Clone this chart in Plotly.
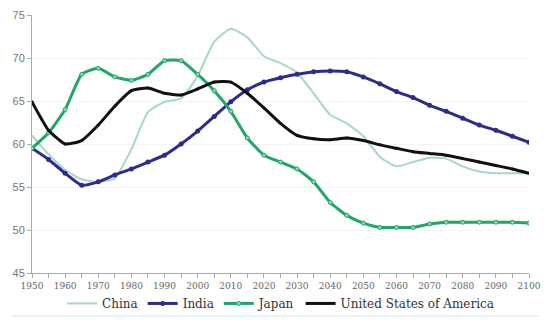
import plotly.graph_objects as go

years = [1950, 1955, 1960, 1965, 1970, 1975, 1980, 1985, 1990, 1995, 2000,
         2005, 2010, 2015, 2020, 2025, 2030, 2035, 2040, 2045, 2050,
         2055, 2060, 2065, 2070, 2075, 2080, 2085, 2090, 2095, 2100]

china = [61.0, 58.8, 57.0, 55.9, 55.6, 56.0, 59.4, 63.7, 64.9, 65.3, 67.9,
         71.9, 73.4, 72.4, 70.2, 69.4, 68.3, 65.9, 63.4, 62.4, 60.9,
         58.5, 57.4, 57.9, 58.4, 58.3, 57.4, 56.8, 56.6, 56.6, 56.6]

india = [59.5, 58.2, 56.6, 55.2, 55.6, 56.4, 57.1, 57.9, 58.7, 60.0, 61.5,
         63.2, 64.9, 66.3, 67.2, 67.7, 68.1, 68.4, 68.5, 68.4, 67.8,
         67.0, 66.1, 65.4, 64.5, 63.8, 63.0, 62.2, 61.6, 60.9, 60.2]

japan = [59.5, 61.3, 64.0, 68.1, 68.8, 67.8, 67.4, 68.1, 69.7, 69.7, 68.1,
         66.2, 63.8, 60.7, 58.7, 57.9, 57.1, 55.6, 53.2, 51.7, 50.8,
         50.3, 50.3, 50.3, 50.7, 50.9, 50.9, 50.9, 50.9, 50.9, 50.8]

usa = [64.9, 61.6, 60.0, 60.4, 62.2, 64.4, 66.2, 66.5, 65.9, 65.7, 66.4,
       67.2, 67.2, 65.9, 64.2, 62.4, 61.0, 60.6, 60.5, 60.7, 60.4,
       59.9, 59.5, 59.1, 58.9, 58.7, 58.3, 57.9, 57.5, 57.1, 56.6]

series_names = ["China", "India", "Japan", "United States of America"]

SERIF = "DejaVu Serif"

fig = go.Figure()
fig.add_trace(go.Scatter(x=years, y=china, name=series_names[0], mode="lines",
                         line=dict(color="#a6d8c6", width=2, shape="spline", smoothing=0.5)))
fig.add_trace(go.Scatter(x=years, y=india, name=series_names[1], mode="lines+markers",
                         line=dict(color="#2f2b8c", width=3, shape="spline", smoothing=0.5),
                         marker=dict(color="#2f2b8c", size=5, symbol="circle")))
fig.add_trace(go.Scatter(x=years, y=japan, name=series_names[2], mode="lines+markers",
                         line=dict(color="#1fa66a", width=3, shape="spline", smoothing=0.5),
                         marker=dict(color="#8fd8b4", size=4, symbol="circle",
                                     line=dict(color="#1fa66a", width=1))))
fig.add_trace(go.Scatter(x=years, y=usa, name=series_names[3], mode="lines+markers",
                         line=dict(color="#111111", width=3, shape="spline", smoothing=0.5),
                         marker=dict(color="#111111", size=3)))

fig.update_layout(
    width=549, height=322,
    margin=dict(l=32, r=20, t=15, b=49, autoexpand=False),
    paper_bgcolor="white", plot_bgcolor="white",
    showlegend=True,
    legend=dict(orientation="h", x=0.5, xanchor="center", y=-0.118, yanchor="middle",
                font=dict(family=SERIF, size=12, color="#333333"),
                itemwidth=30, tracegroupgap=0, itemsizing="trace",
                bgcolor="rgba(0,0,0,0)"),
    xaxis=dict(range=[1950, 2100], dtick=10, tick0=1950, showgrid=False,
               showline=True, linecolor="#aaaaaa", linewidth=1,
               ticks="outside", ticklen=4, tickcolor="#aaaaaa",
               minor=dict(dtick=5, ticks="outside", ticklen=4, tickcolor="#aaaaaa"),
               tickfont=dict(family=SERIF, size=9, color="#666666"),
               zeroline=False),
    yaxis=dict(range=[45, 75], dtick=5, showgrid=True, gridcolor="#f3f3f3",
               showline=True, linecolor="#aaaaaa", linewidth=1,
               ticks="outside", ticklen=4, tickcolor="#aaaaaa",
               tickfont=dict(family="Liberation Sans", size=11, color="#777777"),
               zeroline=False),
)

fig.add_shape(type="line", xref="paper", yref="paper", x0=-0.04, x1=1.02, y0=-0.167, y1=-0.167,
              line=dict(color="#cfe3f5", width=1))

fig.write_html("out.html")
